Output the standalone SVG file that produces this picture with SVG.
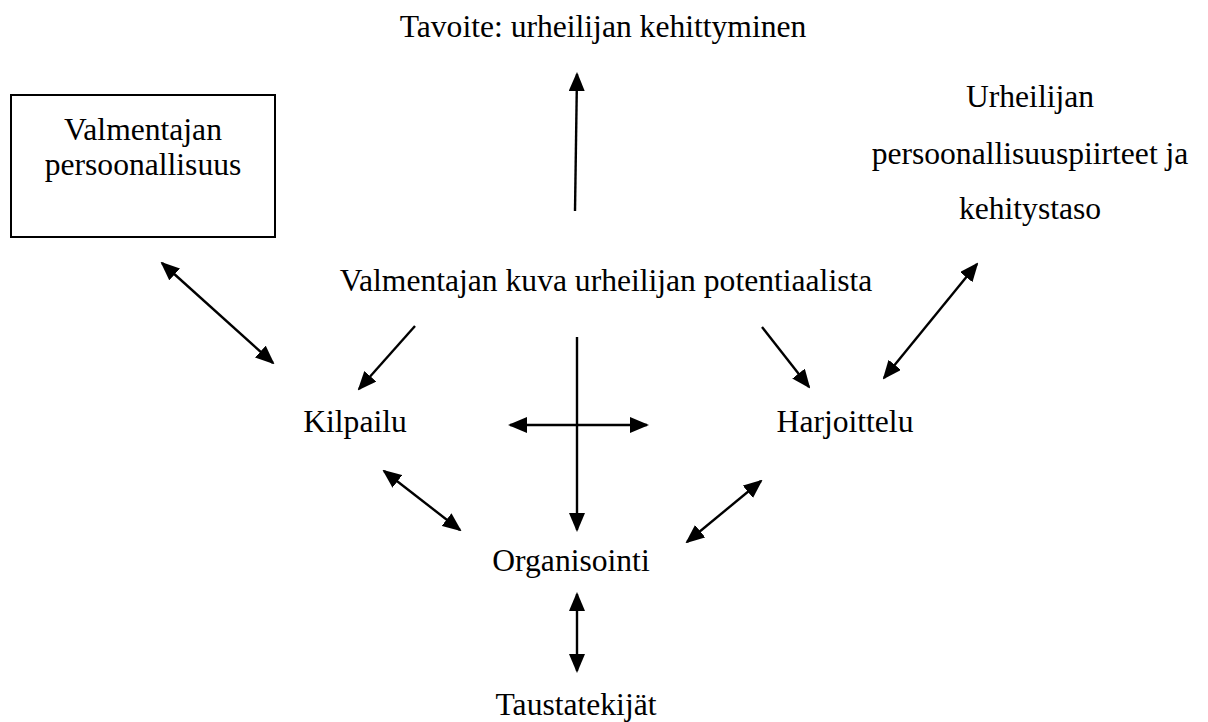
<svg xmlns="http://www.w3.org/2000/svg" width="1208" height="722" viewBox="0 0 1208 722">
<style>
text{font-family:"Liberation Serif","Times New Roman",serif;font-size:31.6px;fill:#000;text-anchor:middle}
.c line{stroke:#000;stroke-width:2.4;fill:none}
.s{marker-end:url(#ah)}
.d{marker-start:url(#ah);marker-end:url(#ah)}
</style>
<defs>
<marker id="ah" markerUnits="userSpaceOnUse" viewBox="0 0 19 16" markerWidth="19" markerHeight="16" refX="17" refY="8" orient="auto-start-reverse">
<path d="M0,0 L19,8 L0,16 z" fill="#000"/>
</marker>
</defs>
<rect width="1208" height="722" fill="#fff"/>
<g id="goal"><text x="603" y="37">Tavoite: urheilijan kehittyminen</text></g>
<g id="coach-personality">
<rect x="11" y="95" width="264" height="142" fill="none" stroke="#000" stroke-width="2"/>
<text x="143" y="140">Valmentajan</text>
<text x="143" y="175">persoonallisuus</text>
</g>
<g id="athlete-traits">
<text x="1030" y="107">Urheilijan</text>
<text x="1030" y="164">persoonallisuuspiirteet ja</text>
<text x="1030" y="219">kehitystaso</text>
</g>
<g id="coach-view"><text x="606" y="291">Valmentajan kuva urheilijan potentiaalista</text></g>
<g id="kilpailu"><text x="355" y="432">Kilpailu</text></g>
<g id="harjoittelu"><text x="845" y="432">Harjoittelu</text></g>
<g id="organisointi"><text x="571" y="571">Organisointi</text></g>
<g id="taustatekijat"><text x="576" y="715">Taustatekijät</text></g>
<g id="connectors" class="c">
<line class="s" x1="575" y1="211" x2="577" y2="74"/>
<line class="d" x1="162" y1="263" x2="273" y2="363"/>
<line class="s" x1="415" y1="326" x2="359" y2="389"/>
<line class="s" x1="577" y1="337" x2="577" y2="530"/>
<line class="d" x1="510" y1="425" x2="647" y2="425"/>
<line class="s" x1="762" y1="327" x2="809" y2="387"/>
<line class="d" x1="977" y1="264" x2="884" y2="378"/>
<line class="d" x1="384" y1="471" x2="460" y2="530"/>
<line class="d" x1="761" y1="481" x2="687" y2="542"/>
<line class="d" x1="577" y1="594" x2="577" y2="671"/>
</g>
</svg>
